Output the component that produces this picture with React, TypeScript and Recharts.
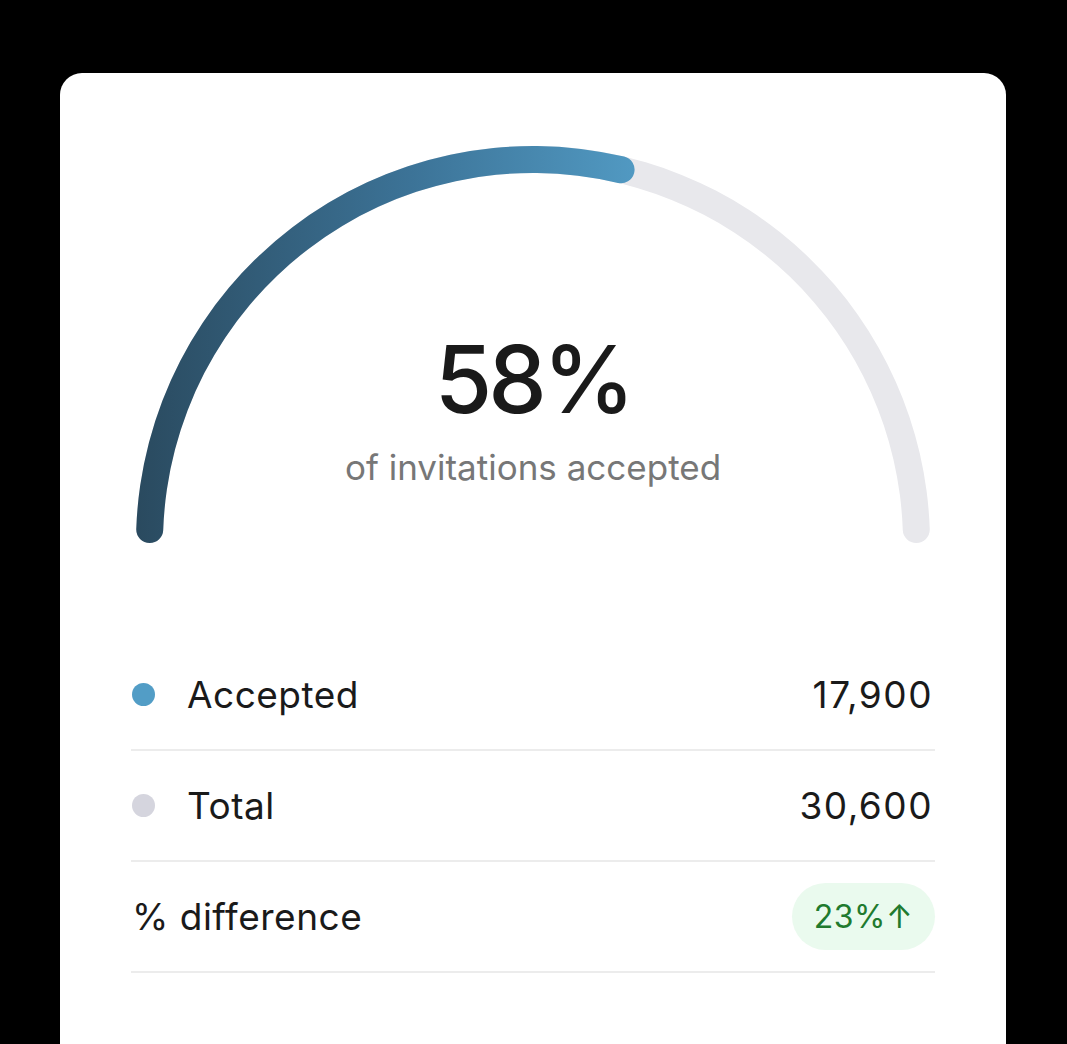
import { PieChart, Pie, Cell } from "recharts";

const categories = ["Accepted", "Total"];
const counts = [17900, 30600];
const dotColors = ["#529dc6", "#d5d5de"];
const differenceLabel = "% difference";
const differencePct = 23;

const accepted = counts[0];
const total = counts[1];
const pct = Math.round((accepted / total) * 100);

const trackData = [{ name: categories[1], value: total }];
const progressData = [
  { name: categories[0], value: accepted },
  { name: "Remaining", value: total - accepted },
];

const font = "Inter, 'Noto Sans', sans-serif";

export default function App() {
  return (
    <div
      style={{
        position: "absolute",
        left: 0,
        top: 0,
        width: 1067,
        height: 1044,
        background: "#000",
        overflow: "hidden",
        fontFamily: font,
      }}
    >
      <div
        style={{
          position: "absolute",
          left: 60,
          top: 73,
          width: 946,
          height: 1020,
          background: "#fff",
          borderRadius: 22,
        }}
      />

      <div style={{ position: "absolute", left: 0, top: 0 }}>
        <PieChart width={1067} height={600} margin={{ top: 0, right: 0, bottom: 0, left: 0 }}>
          <defs>
            <linearGradient id="acceptGrad" x1="0" y1="0" x2="1" y2="0">
              <stop offset="0%" stopColor="#2a4a5f" />
              <stop offset="55%" stopColor="#3c7397" />
              <stop offset="100%" stopColor="#5199c2" />
            </linearGradient>
          </defs>
          <Pie
            data={trackData}
            dataKey="value"
            cx={533}
            cy={543}
            innerRadius={370}
            outerRadius={397}
            startAngle={180}
            endAngle={0}
            cornerRadius={13.5}
            stroke="none"
            fill="#e8e8ec"
            isAnimationActive={false}
          />
          <Pie
            data={progressData}
            dataKey="value"
            cx={533}
            cy={543}
            innerRadius={370}
            outerRadius={397}
            startAngle={180}
            endAngle={0}
            cornerRadius={13.5}
            stroke="none"
            isAnimationActive={false}
          >
            <Cell fill="url(#acceptGrad)" />
            <Cell fill="transparent" />
          </Pie>
        </PieChart>
      </div>

      <div
        style={{
          position: "absolute",
          left: 233,
          width: 600,
          top: 333,
          textAlign: "center",
          fontSize: 93,
          lineHeight: 1,
          fontWeight: 500,
          letterSpacing: -4,
          color: "#1a1a1a",
        }}
      >
        {pct}%
      </div>
      <div
        style={{
          position: "absolute",
          left: 183,
          width: 700,
          top: 450,
          textAlign: "center",
          fontSize: 35,
          lineHeight: 1,
          color: "#777",
        }}
      >
        of invitations accepted
      </div>

      <div style={{ position: "absolute", left: 131, top: 640, width: 804 }}>
        {categories.map((c, i) => (
          <div
            key={c}
            style={{
              height: 109,
              borderBottom: "2px solid #ececec",
              display: "flex",
              alignItems: "center",
              fontSize: 37,
              letterSpacing: 0.5,
              color: "#1a1a1a",
            }}
          >
            <span
              style={{
                width: 23,
                height: 23,
                borderRadius: "50%",
                background: dotColors[i],
                marginLeft: 1,
                marginRight: 32,
              }}
            />
            <span style={{ flex: 1 }}>{c}</span>
            <span style={{ marginRight: 2, letterSpacing: 1.5 }}>{counts[i].toLocaleString("en-US")}</span>
          </div>
        ))}
        <div
          style={{
            height: 109,
            borderBottom: "2px solid #ececec",
            display: "flex",
            alignItems: "center",
            fontSize: 37,
            letterSpacing: 0.5,
            color: "#1a1a1a",
          }}
        >
          <span style={{ flex: 1, marginLeft: 1 }}>{differenceLabel}</span>
          <span
            style={{
              width: 143,
              height: 67,
              borderRadius: 34,
              background: "#eafaee",
              color: "#217a2e",
              fontSize: 32,
              letterSpacing: 0.5,
              display: "flex",
              alignItems: "center",
              justifyContent: "center",
            }}
          >
            {differencePct}%↑
          </span>
        </div>
      </div>
    </div>
  );
}
